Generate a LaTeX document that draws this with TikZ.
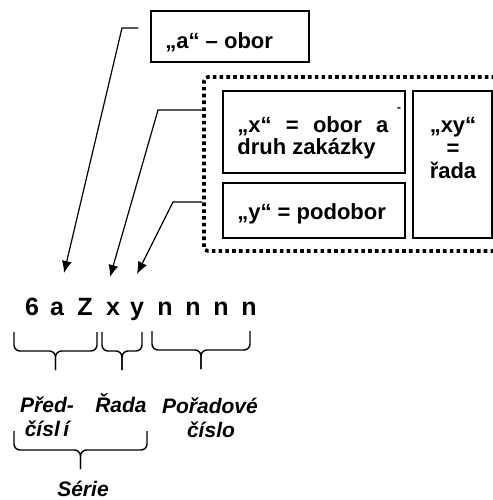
\documentclass[tikz,border=0pt]{standalone}
\usepackage{fontspec}
\setmainfont{Liberation Sans}
\usetikzlibrary{arrows.meta,fit}

\tikzset{
  box/.style={draw, line width=0.7pt, inner sep=0pt},
  dotframe/.style={draw, line width=1.8pt, dash pattern=on 1.8pt off 1.6pt, rounded corners=2pt, inner sep=0pt},
  boxtext/.style={font=\fontsize{11}{12}\selectfont\bfseries, inner sep=0pt, anchor=base west},
  code/.style={font=\fontsize{12.5}{13}\selectfont\bfseries, inner sep=0pt, anchor=base},
  part/.style={font=\fontsize{10.5}{12}\selectfont\bfseries\itshape, inner sep=0pt, anchor=base},
  lead/.style={line width=0.6pt, -{Latex[length=6pt,width=5pt]}},
  curlyline/.style={line width=0.7pt, rounded corners=3pt},
}

% flat brace: left x, right x, top y
\newcommand\codebrace[3]{%
  \draw [curlyline] (#1,#3) -- (#1,#3+19) -- ({(#1+#2)/2},#3+19) -- ({(#1+#2)/2},#3+38);
  \draw [curlyline] (#2,#3) -- (#2,#3+19) -- ({(#1+#2)/2},#3+19) -- ({(#1+#2)/2},#3+38);
}

\begin{document}
\begin{tikzpicture}[x=0.5pt, y=-0.5pt]
\useasboundingbox (0,0) rectangle (493,500);

% boxes
\node [box, fit={(151,11) (309,62)}] (abox) {};
\node [dotframe, fit={(204,77) (540,251)}] (frame) {};
\node [box, fit={(223,91) (405,173)}] (xbox) {};
\node [box, fit={(223,183) (405,238)}] (ybox) {};
\node [box, fit={(413,91) (492,238)}] (xybox) {};

\node [boxtext] (atext) at (165,48) {„a“ – obor};
\node [boxtext] (xtext) at (237,132) {\makebox[75.5pt][s]{„x“ = obor a}};
\node [boxtext] (xtext2) at (237,154) {druh zakázky};
\node [font=\fontsize{6}{6}\selectfont\bfseries, inner sep=0pt] (tick) at (399,110) {-};
\node [boxtext] (ytext) at (237,219) {„y“ = podobor};
\node [boxtext, anchor=base] (xyq) at (453,132) {„xy“};
\node [boxtext, anchor=base] (xyeq) at (453,155) {=};
\node [boxtext, anchor=base] (xyrada) at (453,178) {řada};

% the code itself
\foreach \c/\x [count=\i] in {6/32,a/57,Z/85,x/113,y/137,n/165,n/193,n/221,n/249}
  \node [code] (c\i) at (\x,315) {\c};

% leaders down to the letters
\coordinate (abend) at (122,28);
\coordinate (xbend) at (158,110);
\coordinate (ybend) at (173,202);
\coordinate (atip) at (64,273);
\coordinate (xtip) at (110,277);
\coordinate (ytip) at (137,274);
\draw [lead] ([xshift=-6pt]abend -| abox.west) -- (abend) -- (atip);
\draw [lead] (xbend -| frame.west) -- (xbend) -- (xtip);
\draw [lead] (ybend -| frame.west) -- (ybend) -- (ytip);

% braces and their names
\codebrace{14}{97}{332}
\codebrace{102}{142}{332}
\codebrace{152}{250}{331}
\codebrace{14}{147}{431}

\node [part] (pred) at (47,412) {Před-};
\node [part] (predb) at (47,436) {čísl\,í};
\node [part] (rada) at (121,412) {Řada};
\node [part] (porad) at (210,413) {Pořadové};
\node [part] (poradb) at (211,437) {číslo};
\node [part] (serie) at (83,496) {Série};

\end{tikzpicture}
\end{document}
